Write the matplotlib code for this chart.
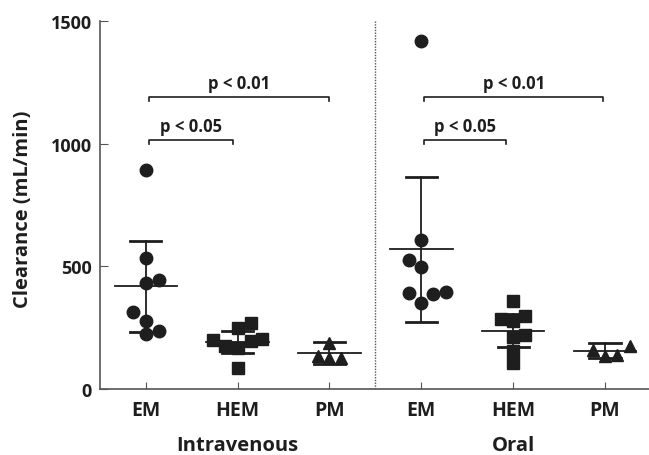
import numpy as np
import matplotlib.pyplot as plt

plt.rcParams['font.family'] = ['Open Sans', 'DejaVu Sans']

# categories on the x axis
groups = ['EM', 'HEM', 'PM', 'EM', 'HEM', 'PM']
routes = ['Intravenous', 'Oral']

# clearance values (mL/min)
iv_em = [893, 534, 433, 444, 313, 276, 223, 235]
iv_hem = [249, 269, 200, 174, 166, 195, 203, 84]
iv_pm = [187, 136, 126, 128]
or_em = [1417, 607, 526, 496, 390, 387, 397, 352]
or_hem = [359, 285, 278, 299, 210, 221, 154, 106]
or_pm = [159, 136, 140, 177]

# horizontal scatter of the points (in category units)
iv_em_dx = [0, 0, 0, 0.14, -0.14, 0, 0, 0.14]
iv_hem_dx = [0, 0.14, -0.27, -0.14, 0, 0.14, 0.27, 0]
iv_pm_dx = [0, -0.13, 0, 0.13]
or_em_dx = [0, 0, -0.13, 0, -0.13, 0.13, 0.27, 0]
or_hem_dx = [0, -0.13, 0, 0.13, 0, 0.13, 0, 0]
or_pm_dx = [-0.13, 0, 0.13, 0.27]

# mean and spread lines
means = [420, 193, 148, 571, 238, 156]
upper = [604, 238, 193, 866, 306, 186]
lower = [234, 146, 102, 274, 170, 125]

data = [iv_em, iv_hem, iv_pm, or_em, or_hem, or_pm]
offsets = [iv_em_dx, iv_hem_dx, iv_pm_dx, or_em_dx, or_hem_dx, or_pm_dx]
markers = ['o', 's', '^', 'o', 's', '^']
sizes = [9, 8.3, 8.8, 9, 8.3, 8.8]

dark = '#1e1e1e'
fig = plt.figure(figsize=(6.49, 4.56), dpi=100)
ax = fig.add_axes([0.154, 0.1447, 0.846, 0.8071])

pos = np.arange(1, 7)
for i in range(6):
    x = pos[i] + np.array(offsets[i])
    ax.plot(x, data[i], linestyle='none', marker=markers[i], ms=sizes[i],
            color=dark, zorder=3)
    ax.plot([pos[i], pos[i]], [lower[i], upper[i]], color=dark, lw=1.3, zorder=2)
    ax.plot([pos[i] - 0.34, pos[i] + 0.34], [means[i], means[i]], color=dark, lw=1.3, zorder=2)
    ax.plot([pos[i] - 0.17, pos[i] + 0.17], [upper[i], upper[i]], color=dark, lw=2, zorder=2)
    ax.plot([pos[i] - 0.17, pos[i] + 0.17], [lower[i], lower[i]], color=dark, lw=2, zorder=2)

# significance brackets
brackets = [(1, 1.95, 1013, 'p < 0.05'), (1, 3.0, 1190, 'p < 0.01'),
            (4, 4.92, 1013, 'p < 0.05'), (4, 5.98, 1190, 'p < 0.01')]
for x0, x1, yb, lab in brackets:
    x0 = x0 + 0.03
    ax.plot([x0, x0, x1, x1], [yb - 15, yb, yb, yb - 15], color=dark, lw=1.2)
    ax.text((x0 + x1) / 2, yb + 22, lab, ha='center', va='bottom',
            fontsize=12, fontweight='bold', color=dark)

ax.axvline(3.5, color='#555555', lw=1, linestyle=(0, (1, 1)))

ax.set_xlim(0.5, 6.48)
ax.set_ylim(0, 1500)
ax.set_yticks([0, 500, 1000, 1500])
ax.set_yticklabels(['0', '500', '1000', '1500'], fontsize=13, fontweight='bold', color=dark)
ax.set_xticks(pos)
ax.set_xticklabels(groups, fontsize=14, fontweight='bold', color=dark)
ax.tick_params(axis='x', direction='in', length=5, color='#555555', pad=8)
ax.tick_params(axis='y', direction='in', length=6, color='#555555', pad=6)
ax.set_ylabel('Clearance (mL/min)', fontsize=14.5, fontweight='bold', color=dark)
ax.yaxis.set_label_coords(-0.122, 0.49)

for s in ['top', 'right']:
    ax.spines[s].set_visible(False)
for s in ['left', 'bottom']:
    ax.spines[s].set_color('#555555')
    ax.spines[s].set_linewidth(1.2)

ax.text(2, -0.153, routes[0], transform=ax.get_xaxis_transform(), ha='center', va='center',
        fontsize=14.5, fontweight='bold', color=dark)
ax.text(5, -0.153, routes[1], transform=ax.get_xaxis_transform(), ha='center', va='center',
        fontsize=14.5, fontweight='bold', color=dark)

fig.savefig('out.png', dpi=100)
